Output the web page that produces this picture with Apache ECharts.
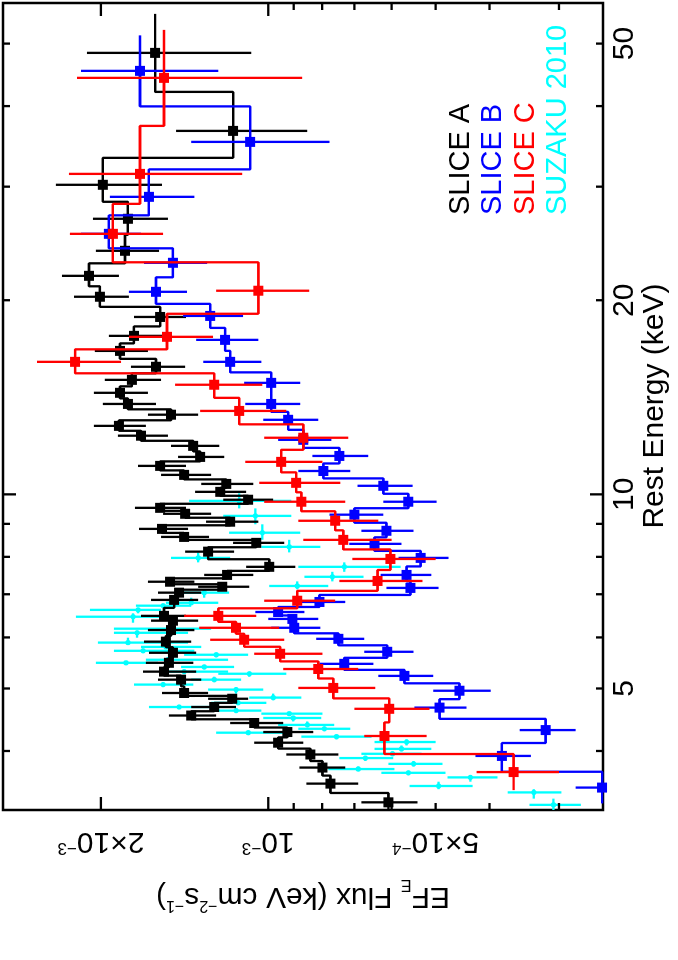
<!DOCTYPE html>
<html>
<head>
<meta charset="utf-8">
<script src="https://cdn.jsdelivr.net/npm/echarts@6/dist/echarts.min.js"></script>
<style>
  html, body { margin: 0; padding: 0; background: #fff; overflow: hidden; width: 678px; height: 960px; }
  /* plot is drawn landscape and turned a quarter turn, like the printed figure */
  #chart { position: absolute; left: 0; top: 0; width: 960px; height: 678px;
           transform-origin: 0 0; transform: translateY(960px) rotate(-90deg); }
</style>
</head>
<body>
<div id="chart"></div>
<script>
// energy in keV, flux in units of 1e-3 keV cm^-2 s^-1
const energyA = [3.33,3.56,3.77,3.95,4.12,4.28,4.42,4.54,4.68,4.82,4.92,5.16,5.31,5.48,5.68,5.91,6.16,6.37,6.48,6.86,7.04,7.19,7.32,7.50,7.72,8.15,8.41,8.59,8.84,9.07,9.33,9.53,9.81,10.09,10.38,10.72,11.07,11.43,11.89,12.33,12.77,13.29,13.81,14.37,15.05,15.77,16.69,17.61,18.84,20.25,21.82,23.86,26.75,30.20,36.61,48.37]
const fluxA = [.608,.773,.799,.840,.960,.924,1.060,1.376,1.251,1.161,1.417,1.435,1.540,1.509,1.484,1.528,1.496,1.484,1.540,1.477,1.447,1.210,1.502,1.186,.996,1.283,1.051,1.417,1.553,1.171,1.411,1.565,1.087,1.220,1.190,1.417,1.565,1.326,1.365,1.694,1.856,1.496,1.788,1.848,1.759,1.592,1.848,1.744,1.565,2.008,2.101,1.810,1.788,1.984,1.157,1.598]
const fluxHiA = [.680,.854,.879,.928,1.060,1.021,1.171,1.509,1.376,1.283,1.553,1.579,1.680,1.660,1.639,1.673,1.646,1.625,1.694,1.625,1.579,1.337,1.646,1.304,1.096,1.411,1.157,1.559,1.708,1.294,1.546,1.737,1.205,1.354,1.320,1.559,1.715,1.453,1.496,1.864,2.059,1.646,1.984,2.059,1.968,1.766,2.051,1.935,1.744,2.236,2.350,2.042,2.067,2.410,1.465,2.119]
const fluxLoA = [.539,.689,.727,.748,.865,.830,.940,1.241,1.143,1.087,1.283,1.320,1.348,1.364,1.348,1.376,1.358,1.337,1.406,1.337,1.320,1.082,1.358,1.064,.894,1.152,.936,1.278,1.394,1.042,1.267,1.406,.980,1.096,1.064,1.267,1.406,1.200,1.225,1.515,1.660,1.337,1.592,1.646,1.559,1.411,1.646,1.540,1.406,1.781,1.856,1.572,1.515,1.553,.851,1.073]

const energyB = [3.51,3.93,4.31,4.67,4.96,5.23,5.46,5.70,5.97,6.21,6.41,6.57,6.81,7.16,7.50,7.97,8.38,8.78,9.30,9.74,10.31,10.87,11.47,12.15,13.05,13.81,14.89,16.05,17.36,18.91,20.61,22.86,25.35,28.93,35.20,45.36]
const fluxB = [.251,.380,.317,.492,.453,.569,.730,.611,.748,.898,.905,.960,.809,.555,.564,.532,.644,.613,.700,.560,.621,.796,.745,.865,.921,.988,.988,1.171,1.196,1.272,1.592,1.484,1.935,1.639,1.078,1.701]
const fluxHiB = [.280,.424,.353,.546,.505,.634,.809,.672,.820,.988,1.000,1.055,.898,.613,.628,.583,.715,.680,.776,.621,.691,.883,.833,.960,1.021,1.100,1.105,1.309,1.348,1.423,1.781,1.673,2.172,1.927,1.376,2.172]
const fluxLoB = [.250,.337,.280,.440,.398,.505,.647,.548,.672,.806,.813,.861,.727,.494,.509,.474,.576,.548,.621,.498,.550,.712,.661,.770,.813,.876,.876,1.029,1.042,1.110,1.400,1.288,1.694,1.358,.776,1.230]

const energyC = [3.71,4.22,4.65,5.01,5.36,5.66,5.95,6.21,6.48,6.84,7.34,7.94,8.50,9.10,9.74,10.42,11.23,12.24,13.47,14.79,16.05,17.55,20.69,25.35,31.40,44.24]
const fluxC = [.362,.618,.606,.764,.813,.952,1.105,1.143,1.230,.887,.636,.603,.733,.758,.872,.891,.948,.865,1.128,1.251,2.226,1.521,1.042,1.903,1.701,1.540]
const fluxHiC = [.422,.672,.700,.883,.940,1.060,1.272,1.331,1.417,1.017,.745,.706,.865,.883,1.017,1.038,1.100,1.017,1.326,1.471,2.606,1.781,1.241,2.274,2.283,2.208]
const fluxLoC = [.300,.519,.513,.642,.689,.799,.936,.956,1.051,.758,.528,.500,.600,.634,.727,.742,.799,.718,.928,1.025,1.840,1.257,.844,1.546,1.114,.869]

const energyS = [3.30,3.45,3.53,3.64,3.70,3.75,3.82,3.90,3.96,4.03,4.13,4.21,4.27,4.33,4.39,4.50,4.57,4.62,4.68,4.75,4.84,4.98,5.07,5.16,5.27,5.31,5.40,5.48,5.54,5.64,5.72,5.80,5.89,6.10,6.19,6.46,6.62,6.72,6.79,7.04,7.21,7.45,7.72,7.97,8.29,8.72,9.26,9.77]
const fluxS = [.307,.333,.494,.433,.560,.689,.548,.669,.598,.576,.564,.754,1.087,.793,.851,.902,.917,1.143,1.447,1.133,.980,1.143,1.546,1.251,1.082,1.417,1.304,1.803,1.515,1.241,1.680,1.528,1.788,1.722,1.484,1.751,1.715,1.546,1.376,1.304,.887,.767,.730,1.337,.917,1.025,1.055,1.128]
const fluxHiS = [.339,.371,.557,.476,.626,.780,.608,.745,.680,.644,.644,.872,1.241,.883,.960,1.021,1.029,1.267,1.639,1.267,1.082,1.283,1.744,1.376,1.230,1.559,1.435,2.042,1.660,1.417,1.895,1.694,2.025,1.895,1.895,2.218,2.093,1.730,1.528,1.447,.996,.861,.883,1.496,1.029,1.176,1.205,1.388]
const fluxLoS = [.274,.297,.429,.387,.480,.593,.486,.596,.530,.509,.500,.652,.936,.712,.761,.803,.799,1.029,1.267,1.008,.872,1.021,1.364,1.119,.928,1.181,1.152,1.579,1.181,1.087,1.358,1.320,1.394,1.394,1.267,1.540,1.559,1.376,1.230,1.176,.780,.674,.578,1.171,.806,.876,.909,.909]

const seriesNames = ['SLICE A', 'SLICE B', 'SLICE C', 'SUZAKU 2010']
const seriesColors = ['#000000', '#0000ff', '#ff0000', '#00ffff']

const energyTicks = [4, 5, 6, 7, 8, 9, 10, 20, 30, 40, 50]
const energyMajor = [10]
const energyLabelVals = [5, 10, 20, 50]
const energyLabelText = ['5', '10', '20', '50']
const fluxTicks = [0.3, 0.4, 0.5, 0.6, 0.7, 0.8, 0.9, 1, 2]
const fluxMajor = [1, 2]
const fluxLabelVals = [2, 1, 0.5]
const fluxLabelText = ['{n|2×10}{s|−3}', '{n|10}{s|−3}', '{n|5×10}{s|−4}']

const E_MIN = 3.24, E_MAX = 57.8
const F_MIN = 0.25, F_MAX = 3
const FONT = "'Liberation Sans', Arial, Helvetica, sans-serif"
const LW = 2.3

const labelRich = {
    n: { fontSize: 30, fontFamily: FONT, lineHeight: 30, verticalAlign: 'middle', fill: '#000' },
    s: { fontSize: 17, fontFamily: FONT, lineHeight: 17, verticalAlign: 'top', fill: '#000' }
}

function stepSeries(E, F, color, z) {
    return {
        type: 'line', step: 'middle', z, silent: true,
        data: E.map((e, i) => [e, F[i]]),
        symbol: 'rect', symbolSize: 10, showAllSymbol: true,
        lineStyle: { color, width: LW },
        itemStyle: { color }
    }
}

function errSeries(E, F, hi, lo, color, z, dot) {
    return {
        type: 'custom', z, silent: true,
        data: E.map((e, i) => [e, F[i], hi[i], lo[i]]),
        renderItem(params, api) {
            const i = params.dataIndex
            const cs = params.coordSys
            const p = api.coord([E[i], F[i]])
            const t = api.coord([E[i], hi[i]])
            const b = api.coord([E[i], lo[i]])
            const xp = i > 0 ? api.coord([E[i - 1], F[i]])[0] : null
            const xn = i < E.length - 1 ? api.coord([E[i + 1], F[i]])[0] : null
            let l = xp !== null ? (xp + p[0]) / 2 : p[0] - (xn - p[0]) / 2
            let r = xn !== null ? (xn + p[0]) / 2 : p[0] + (p[0] - xp) / 2
            l = Math.max(l, cs.x)
            r = Math.min(r, cs.x + cs.width)
            const st = { stroke: color, lineWidth: LW }
            const children = [
                { type: 'line', shape: { x1: p[0], y1: t[1], x2: p[0], y2: b[1] }, style: st },
                { type: 'line', shape: { x1: l, y1: p[1], x2: r, y2: p[1] }, style: st }
            ]
            if (dot) children.push({ type: 'circle', shape: { cx: p[0], cy: p[1], r: 2.6 }, style: { fill: color } })
            return { type: 'group', children }
        }
    }
}

const energyTickSeries = {
    type: 'custom', z: 20, silent: true,
    data: energyTicks.map(v => [v, F_MIN]),
    renderItem(params, api) {
        const cs = params.coordSys
        const v = energyTicks[params.dataIndex]
        const x = api.coord([v, F_MIN])[0]
        const len = energyMajor.includes(v) ? 13 : 7
        const st = { stroke: '#000', lineWidth: LW }
        const bottom = cs.y + cs.height
        const children = [
            { type: 'line', shape: { x1: x, y1: bottom, x2: x, y2: bottom - len }, style: st },
            { type: 'line', shape: { x1: x, y1: cs.y, x2: x, y2: cs.y + len }, style: st }
        ]
        const li = energyLabelVals.indexOf(v)
        if (li >= 0) {
            children.push({
                type: 'text', x, y: bottom + 22,
                style: { text: energyLabelText[li], fontSize: 30, fontFamily: FONT, fill: '#000',
                         align: 'center', verticalAlign: 'middle', textAlign: 'center', textVerticalAlign: 'middle' }
            })
        }
        return { type: 'group', children }
    }
}

const fluxTickSeries = {
    type: 'custom', z: 20, silent: true,
    data: fluxTicks.map(v => [E_MIN, v]),
    renderItem(params, api) {
        const cs = params.coordSys
        const v = fluxTicks[params.dataIndex]
        const y = api.coord([E_MIN, v])[1]
        const len = fluxMajor.includes(v) ? 13 : 7
        const st = { stroke: '#000', lineWidth: LW }
        const right = cs.x + cs.width
        const children = [
            { type: 'line', shape: { x1: cs.x, y1: y, x2: cs.x + len, y2: y }, style: st },
            { type: 'line', shape: { x1: right, y1: y, x2: right - len, y2: y }, style: st }
        ]
        const li = fluxLabelVals.indexOf(v)
        if (li >= 0) {
            children.push({
                type: 'text', x: cs.x - 31, y, rotation: Math.PI / 2,
                style: { text: fluxLabelText[li], rich: labelRich, fontSize: 30, fontFamily: FONT, fill: '#000',
                         align: 'center', verticalAlign: 'middle', textAlign: 'center', textVerticalAlign: 'middle' }
            })
        }
        return { type: 'group', children }
    }
}

const legendGraphics = seriesNames.map((name, i) => ({
    type: 'text', left: 745, top: 463 + 32.5 * i - 17, silent: true,
    style: { text: name, fontSize: 29, fontFamily: FONT, fill: seriesColors[i] }
}))

const chart = echarts.init(document.getElementById('chart'))
chart.setOption({
    animation: false,
    backgroundColor: '#fff',
    grid: {
        left: 150, right: 3, top: 3, bottom: 75,
        show: true, borderColor: '#000', borderWidth: 2.5, backgroundColor: 'transparent',
        containLabel: false, outerBoundsMode: 'none'
    },
    xAxis: {
        type: 'log', logBase: 10, min: E_MIN, max: E_MAX,
        axisLine: { show: false }, axisTick: { show: false }, axisLabel: { show: false }, splitLine: { show: false }
    },
    yAxis: {
        type: 'log', logBase: 10, min: F_MIN, max: F_MAX,
        axisLine: { show: false }, axisTick: { show: false }, axisLabel: { show: false }, splitLine: { show: false }
    },
    graphic: [
        {
            type: 'text', x: 554, y: 655, silent: true,
            style: { text: 'Rest Energy (keV)', fontSize: 30, fontFamily: FONT, fill: '#000',
                     align: 'center', verticalAlign: 'middle', textAlign: 'center', textVerticalAlign: 'middle' }
        },
        {
            type: 'text', x: 64, y: 303, rotation: Math.PI / 2, silent: true,
            style: {
                text: '{n|EF}{b|E}{n| Flux (keV cm}{t|−2}{n|s}{t|−1}{n|)}',
                rich: {
                    n: { fontSize: 30, fontFamily: FONT, lineHeight: 40, verticalAlign: 'middle', fill: '#000' },
                    b: { fontSize: 16, fontFamily: FONT, lineHeight: 16, verticalAlign: 'bottom', fill: '#000' },
                    t: { fontSize: 16, fontFamily: FONT, lineHeight: 16, verticalAlign: 'top', fill: '#000', padding: [3, 0, 0, 0] }
                },
                fontSize: 30, fontFamily: FONT, fill: '#000',
                align: 'center', verticalAlign: 'middle', textAlign: 'center', textVerticalAlign: 'middle'
            }
        }
    ].concat(legendGraphics),
    series: [
        errSeries(energyS, fluxS, fluxHiS, fluxLoS, seriesColors[3], 2, true),
        stepSeries(energyA, fluxA, seriesColors[0], 3),
        errSeries(energyA, fluxA, fluxHiA, fluxLoA, seriesColors[0], 3, false),
        stepSeries(energyB, fluxB, seriesColors[1], 4),
        errSeries(energyB, fluxB, fluxHiB, fluxLoB, seriesColors[1], 4, false),
        stepSeries(energyC, fluxC, seriesColors[2], 5),
        errSeries(energyC, fluxC, fluxHiC, fluxLoC, seriesColors[2], 5, false),
        energyTickSeries,
        fluxTickSeries
    ]
})
</script>
</body>
</html>
